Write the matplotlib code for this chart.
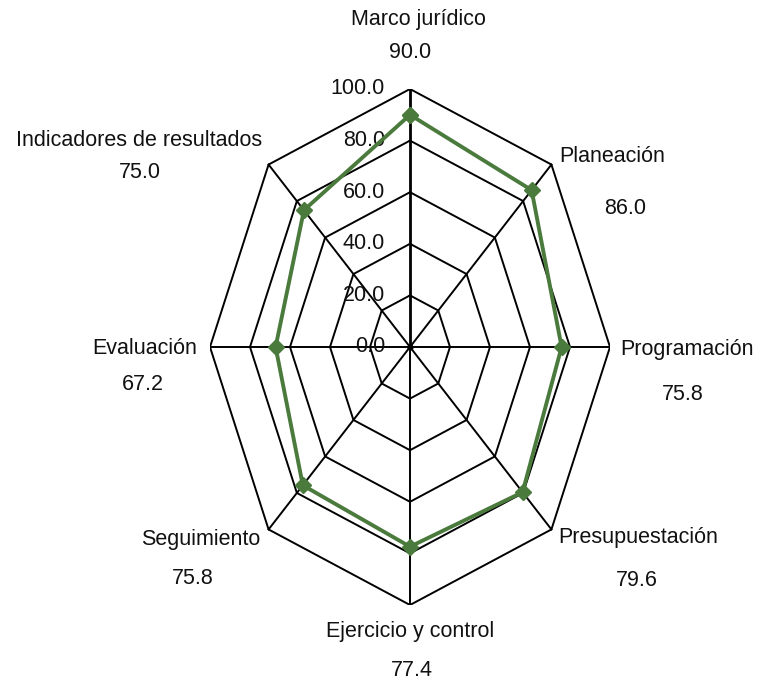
import numpy as np
import matplotlib
matplotlib.use("Agg")
import matplotlib.pyplot as plt
from matplotlib import font_manager

categories = ["Marco jurídico", "Planeación", "Programación", "Presupuestación",
              "Ejercicio y control", "Seguimiento", "Evaluación",
              "Indicadores de resultados"]
values = [90.0, 86.0, 75.8, 79.6, 77.4, 75.8, 67.2, 75.0]
rings = [20, 40, 60, 80, 100]
ring_labels = ["0.0", "20.0", "40.0", "60.0", "80.0", "100.0"]

# where each category name / value is written (pixels from top-left)
name_pos = [(418, 20), (612, 157), (687, 349), (638, 538),
            (410, 632), (201, 540), (145, 349), (139, 140)]
value_pos = [(410, 53), (625, 208), (683, 395), (637, 580),
             (412, 670), (193, 578), (143, 385), (140, 173)]

installed = {f.name for f in font_manager.fontManager.ttflist}
if "Liberation Sans Narrow" in installed:
    plt.rcParams["font.family"] = ["Liberation Sans Narrow"]
    fsize = 18
else:
    plt.rcParams["font.family"] = ["Liberation Sans", "DejaVu Sans"]
    fsize = 15.5

W, H = 760, 685
fig = plt.figure(figsize=(W / 100, H / 100), dpi=100)
ax = fig.add_axes([210 / W, (H - 605) / H, 400 / W, 516 / H])
ax.set_xlim(-100, 100)
ax.set_ylim(-100, 100)
ax.axis("off")

n = len(categories)
ang = np.deg2rad(90 - 360.0 / n * np.arange(n))
cx, cy = np.cos(ang), np.sin(ang)

# octagonal grid
for r in rings:
    ax.plot(np.append(cx, cx[0]) * r, np.append(cy, cy[0]) * r,
            color="black", lw=1.4, zorder=1)
for i in range(n):
    ax.plot([0, cx[i] * 100], [0, cy[i] * 100], color="black",
            lw=2.0 if i == 0 else 1.4, zorder=1)
ax.plot(0, 0, "o", color="black", ms=3.5, zorder=2)

# radial scale
for r, lab in zip([0] + rings, ring_labels):
    ax.text(-12.5, r, lab, ha="right", va="center", fontsize=fsize,
            color="#111111", zorder=3)

v = np.array(values)
ax.plot(np.append(cx * v, cx[0] * v[0]), np.append(cy * v, cy[0] * v[0]),
        color="#4b7a3d", lw=2.8, marker="D", ms=8, zorder=4)

for name, val, (nx, ny), (vx, vy) in zip(categories, values, name_pos, value_pos):
    fig.text(nx / W, 1 - ny / H, name, ha="center", va="center",
             fontsize=fsize, color="#111111")
    fig.text(vx / W, 1 - vy / H, f"{val:.1f}", ha="center", va="center",
             fontsize=fsize, color="#111111")

fig.savefig("out.png", dpi=100)
